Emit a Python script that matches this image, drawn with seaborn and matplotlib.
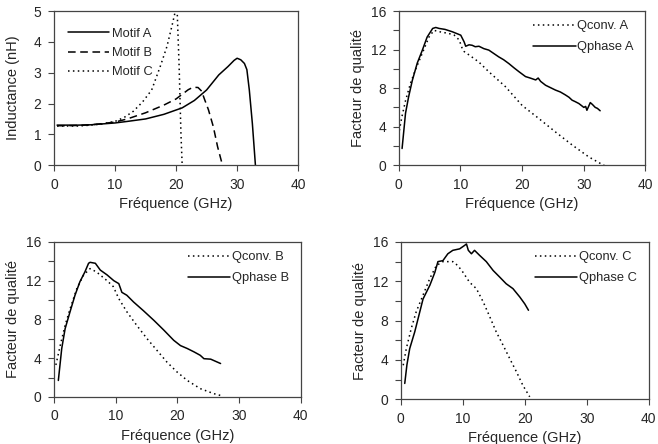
import numpy as np
import pandas as pd
import matplotlib
matplotlib.use("Agg")
import matplotlib.pyplot as plt
from matplotlib.ticker import MultipleLocator
import seaborn as sns

# ---- data ----
# Inductance (nH) vs frequency (GHz)
freq_A = [0.5, 2, 4, 6, 8, 10, 12, 15, 18, 20, 21, 23, 25, 27, 28.5, 29.5, 30, 30.6, 31.2, 31.6, 32, 32.5, 33]
ind_A = [1.3, 1.3, 1.3, 1.31, 1.34, 1.37, 1.42, 1.5, 1.65, 1.79, 1.86, 2.1, 2.44, 2.93, 3.2, 3.4, 3.47, 3.42, 3.3, 3.1, 2.44, 1.35, 0]
freq_B = [0.5, 2, 4, 6, 8, 10, 12, 15, 18, 20, 21, 22, 22.8, 23.6, 24.2, 24.6, 25.3, 26.1, 26.8, 27.6]
ind_B = [1.28, 1.28, 1.29, 1.31, 1.35, 1.4, 1.5, 1.7, 1.95, 2.15, 2.3, 2.45, 2.53, 2.52, 2.4, 2.17, 1.8, 1.25, 0.6, 0]
freq_C = [0.5, 2, 4, 6, 8, 10, 11.5, 13, 14.5, 16, 17.4, 18.5, 19.3, 19.8, 20.2, 20.5, 20.8, 21.0]
ind_C = [1.27, 1.27, 1.27, 1.3, 1.34, 1.42, 1.55, 1.75, 2.05, 2.44, 3.2, 3.85, 4.5, 4.93, 4.88, 3.2, 1.0, 0]

# Quality factor, motif A
fA_phase = [0.54, 1.1, 1.6, 2.2, 3.0, 3.8, 4.6, 5.5, 6.0, 6.54, 7.5, 8.7, 10.05, 10.6, 10.85, 11.4, 11.9, 12.4, 13.0,
            13.8, 14.6, 15.4, 16.2, 17.0, 17.85, 18.7, 19.5, 20.55, 21.3, 22.2, 22.6, 23.0, 23.8, 24.6, 25.4, 26.2,
            27.0, 27.6, 28.1, 28.6, 29.2, 29.6, 30.0, 30.3, 30.5, 31.05, 31.4, 31.85, 32.2, 32.65]
qA_phase = [1.73, 5.4, 7.1, 8.8, 10.6, 11.9, 13.3, 14.2, 14.3, 14.2, 14.1, 13.85, 13.5, 12.8, 12.35, 12.5, 12.45, 12.3, 12.35,
            12.1, 11.95, 11.6, 11.25, 10.95, 10.55, 10.1, 9.7, 9.2, 9.05, 8.85, 9.05, 8.7, 8.3, 8.05, 7.8, 7.6,
            7.3, 7.05, 6.75, 6.6, 6.4, 6.2, 6.0, 6.1, 5.7, 6.5, 6.3, 6.0, 5.9, 5.65]
fA_conv = [0.1, 0.5, 1.1, 1.9, 2.7, 3.8, 4.9, 5.7, 7.0, 8.0, 9.0, 9.8, 10.3, 10.6, 11.5, 13.0, 14.6, 17.3, 20.0, 22.7,
           25.4, 28.1, 30.8, 32.9, 33.3]
qA_conv = [3.6, 5.0, 6.7, 8.5, 9.9, 11.6, 13.3, 14.0, 13.8, 13.7, 13.5, 13.0, 12.1, 11.8, 11.4, 10.7, 9.7, 8.15, 6.2, 4.85,
           3.45, 2.1, 0.86, 0.1, 0]

# Quality factor, motif B
fB_phase = [0.7, 1.25, 1.8, 2.6, 3.4, 4.2, 5.0, 5.6, 5.85, 6.7, 7.5, 8.6, 9.7, 10.5, 11.0, 11.8, 12.9, 14.5, 16.2,
            17.8, 19.4, 20.5, 21.6, 22.7, 23.7, 24.3, 25.4, 27.0]
qB_phase = [1.7, 5.0, 7.05, 8.8, 10.5, 11.9, 12.9, 13.8, 13.9, 13.8, 13.1, 12.6, 12.0, 11.7, 10.8, 10.5, 9.8, 8.9, 7.9,
            6.9, 5.85, 5.3, 5.0, 4.65, 4.3, 3.95, 3.9, 3.45]
fB_conv = [0.3, 1.0, 1.8, 2.6, 3.7, 4.8, 5.85, 6.9, 8.6, 9.6, 10.5, 11.8, 13.4, 15.1, 16.7, 18.3, 19.9, 21.6, 23.7, 25.9, 27.3]
qB_conv = [3.3, 5.3, 7.4, 9.1, 11.2, 12.6, 13.25, 12.9, 12.0, 11.4, 10.15, 8.8, 7.4, 6.0, 4.8, 3.6, 2.6, 1.7, 0.86, 0.34, 0.1]

# Quality factor, motif C
fC_phase = [0.65, 1.0, 1.45, 2.26, 2.8, 3.6, 4.7, 5.5, 6.0, 6.8, 7.6, 8.4, 9.5, 10.3, 10.6, 10.9, 11.4, 11.9, 12.7,
            13.8, 14.9, 16.0, 17.0, 18.1, 19.2, 20.0, 20.6]
qC_phase = [1.6, 3.5, 5.15, 6.85, 8.2, 10.2, 11.6, 12.9, 14.0, 14.1, 14.8, 15.15, 15.3, 15.65, 15.8, 15.15, 14.8, 15.15, 14.65,
            14.0, 13.1, 12.4, 11.75, 11.25, 10.4, 9.7, 9.05]
fC_conv = [0.4, 0.9, 1.7, 2.5, 3.6, 4.7, 5.75, 6.8, 8.4, 9.2, 10.0, 11.1, 12.2, 13.3, 14.35, 15.4, 16.5, 17.6, 18.65, 19.7, 20.8]
qC_conv = [3.45, 5.15, 7.2, 8.9, 10.6, 12.3, 13.6, 14.0, 14.0, 13.6, 12.95, 11.9, 11.25, 9.9, 8.4, 6.85, 5.5, 4.1, 2.8, 1.4, 0.24]

sns.set_style("ticks")
plt.rcParams['font.family'] = ['Liberation Sans', 'DejaVu Sans']
plt.rcParams['font.size'] = 10

dotted = (0, (1, 2.2))
dashed = (0, (5, 3))
spine_col = "#444444"

fig = plt.figure(figsize=(6.58, 4.44), dpi=100)
ax1 = fig.add_axes([0.0821, 0.628, 0.371, 0.347])
ax2 = fig.add_axes([0.606, 0.628, 0.375, 0.347])
ax3 = fig.add_axes([0.0821, 0.106, 0.375, 0.349])
ax4 = fig.add_axes([0.609, 0.101, 0.377, 0.354])

sns.lineplot(x=freq_A, y=ind_A, ax=ax1, color="black", lw=1.1, sort=False, label="Motif A")
sns.lineplot(x=freq_B, y=ind_B, ax=ax1, color="black", lw=1.1, sort=False, linestyle=dashed, label="Motif B")
sns.lineplot(x=freq_C, y=ind_C, ax=ax1, color="black", lw=1.1, sort=False, linestyle=dotted, label="Motif C")

panels = [
    (ax2, fA_conv, qA_conv, fA_phase, qA_phase, "A"),
    (ax3, fB_conv, qB_conv, fB_phase, qB_phase, "B"),
    (ax4, fC_conv, qC_conv, fC_phase, qC_phase, "C"),
]
for ax, fc, qc, fp, qp, m in panels:
    sns.lineplot(x=fc, y=qc, ax=ax, color="black", lw=1.1, sort=False, linestyle=dotted, label="Qconv. " + m)
    sns.lineplot(x=fp, y=qp, ax=ax, color="black", lw=1.1, sort=False, label="Qphase " + m)
    ax.set_ylim(0, 16)
    ax.yaxis.set_major_locator(MultipleLocator(4))
    ax.yaxis.set_minor_locator(MultipleLocator(2))
    ax.set_ylabel("Facteur de qualité", fontsize=10.5)
    ax.legend(loc="upper right", frameon=False, handlelength=3.3, handletextpad=0.15,
              labelspacing=0.7, borderaxespad=0.3, bbox_to_anchor=(0.99, 1.0), fontsize=9.3)

ax1.set_ylim(0, 5)
ax1.yaxis.set_major_locator(MultipleLocator(1))
ax1.set_ylabel("Inductance (nH)", fontsize=10.5, labelpad=10)
ax1.legend(loc="upper left", frameon=False, handlelength=3.2, handletextpad=0.25,
           labelspacing=0.55, borderaxespad=0.9, bbox_to_anchor=(-0.012, 1.0), fontsize=9.3)

for ax in [ax1, ax2, ax3, ax4]:
    ax.set_xlim(0, 40)
    ax.xaxis.set_major_locator(MultipleLocator(10))
    ax.set_xlabel("Fréquence (GHz)", fontsize=10.5)
    ax.tick_params(which="both", direction="out", length=4, width=0.8, color=spine_col, labelsize=10, pad=5)
    for s in ax.spines.values():
        s.set_color(spine_col)
        s.set_linewidth(0.9)

fig.savefig("out.png", dpi=100)
